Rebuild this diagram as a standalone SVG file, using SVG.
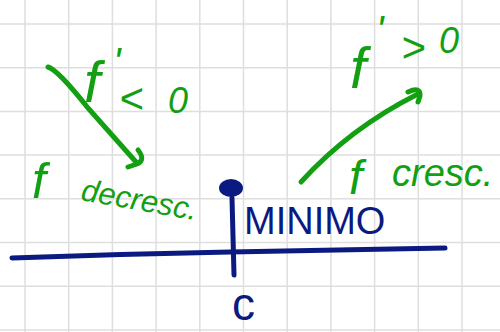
<svg xmlns="http://www.w3.org/2000/svg" width="500" height="332" viewBox="0 0 500 332">
<style>
.grid{stroke:#dedede;stroke-width:1.5;fill:none}
.g{fill:#12a012;font-family:"Liberation Sans",sans-serif;font-style:italic}
.b{fill:#0b1a80;font-family:"Liberation Sans",sans-serif}
.gs{stroke:#12a012;stroke-width:5;fill:none;stroke-linecap:round;stroke-linejoin:round}
.bs{stroke:#0b1a80;stroke-width:5;fill:none;stroke-linecap:round;stroke-linejoin:round}
</style>
<rect width="500" height="332" fill="#ffffff"/>
<path class="grid" d="M25,0V332M68.7,0V332M112.4,0V332M156.1,0V332M199.8,0V332M243.5,0V332M287.2,0V332M330.9,0V332M374.6,0V332M418.3,0V332M462,0V332M0,24H500M0,67.7H500M0,111.4H500M0,155.1H500M0,198.8H500M0,242.5H500M0,286.2H500M0,329.9H500"/>
<g id="connectors">
<path class="gs" d="M48,67 Q58,70 88,108 L136,162"/>
<path class="gs" d="M138,150 Q146,160 137,164 L128,167"/>
<path class="gs" d="M301,182 Q350,128 418,94"/>
<path class="gs" d="M408,92 Q421,86 420,96 L418,102"/>
</g>
<g id="label-fprime-neg">
<text class="g" x="84" y="102" font-size="58">f</text>
<text class="g" x="113" y="76" font-size="40">'</text>
<text class="g" x="119" y="113" font-size="42" font-style="normal">&lt;</text>
<text class="g" x="168" y="113" font-size="36" font-style="normal">0</text>
</g>
<g id="label-fprime-pos">
<text class="g" x="350" y="88" font-size="58">f</text>
<text class="g" x="376" y="44" font-size="40">'</text>
<text class="g" x="401" y="62" font-size="42" font-style="normal">&gt;</text>
<text class="g" x="439" y="53" font-size="36" font-style="normal">0</text>
</g>
<g id="label-decresc">
<text class="g" x="32" y="198" font-size="50">f</text>
<text class="g" x="80" y="200" font-size="31" transform="rotate(10 80 200)">decresc.</text>
</g>
<g id="label-cresc">
<text class="g" x="349" y="194" font-size="48">f</text>
<text class="g" x="392" y="186" font-size="38">cresc.</text>
</g>
<g id="axis">
<path class="bs" d="M12,258 Q120,254 230,252 T445,248"/>
<path class="bs" d="M232,198 L234,275"/>
</g>
<g id="minimum-point">
<ellipse cx="231" cy="188" rx="12" ry="9" fill="#0b1a80"/>
<text class="b" x="244" y="234" font-size="38">MINIMO</text>
</g>
<g id="label-c">
<text class="b" x="232" y="320" font-size="46">c</text>
</g>
</svg>
